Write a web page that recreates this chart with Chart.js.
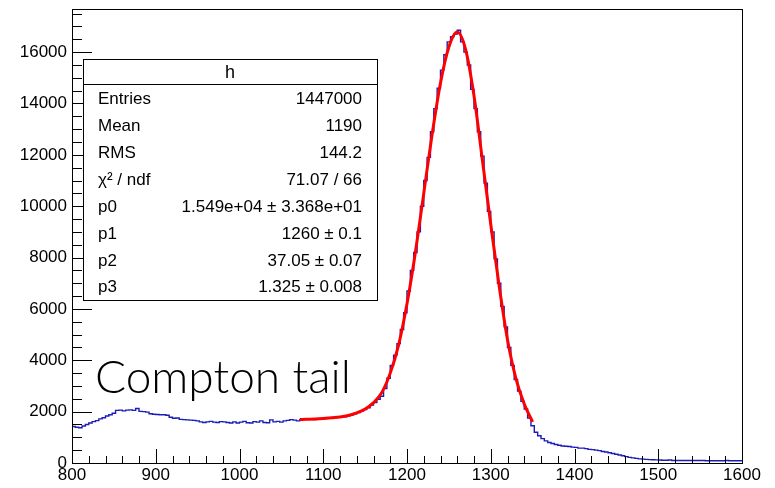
<!DOCTYPE html>
<html>
<head>
<meta charset="utf-8">
<title>h</title>
<script src="https://cdn.jsdelivr.net/npm/chart.js@4.4.1/dist/chart.umd.min.js"></script>
<style>
  html, body { margin: 0; padding: 0; background: #fff; }
  canvas { display: block; }
</style>
</head>
<body>
<canvas id="histChart" width="775" height="488"></canvas>
<script>
// histogram: 200 bins of width 4 from 800 to 1600
const binStart = 800;
const binWidth = 4;
const counts = [
  1420, 1390, 1370, 1440, 1500, 1560, 1610, 1650, 1720, 1760,
  1830, 1880, 1940, 2050, 2060, 2030, 2060, 2070, 2050, 2120,
  2010, 2000, 1980, 1920, 1900, 1890, 1880, 1880, 1860, 1780,
  1740, 1750, 1700, 1690, 1680, 1670, 1660, 1640, 1600, 1580,
  1600, 1620, 1590, 1580, 1610, 1600, 1580, 1560, 1600, 1560,
  1590, 1620, 1570, 1560, 1610, 1590, 1640, 1580, 1570, 1680,
  1600, 1620, 1590, 1640, 1660, 1690, 1670, 1640, 1690, 1700,
  1710, 1700, 1690, 1720, 1710, 1730, 1740, 1750, 1770, 1790,
  1780, 1800, 1840, 1880, 1920, 1960, 2020, 2080, 2150, 2260,
  2350, 2480, 2600, 2900, 3300, 3800, 4200, 4650, 5200, 5850,
  6700, 7500, 8200, 9000, 10000, 11000, 11900, 12900, 13800, 14600,
  15300, 15900, 16400, 16600, 16700, 16850, 16400, 16000, 15500, 14550,
  13800, 12900, 11950, 10900, 9800, 9000, 7950, 7000, 6100, 5300,
  4500, 3800, 3250, 2800, 2400, 2100, 1750, 1450, 1200, 1060,
  950, 860, 800, 760, 720, 690, 660, 650, 640, 620,
  610, 580, 580, 560, 530, 520, 500, 480, 450, 430,
  400, 370, 340, 310, 280, 250, 220, 200, 180, 160,
  150, 140, 130, 125, 120, 115, 110, 105, 115, 100,
  100, 100, 100, 95, 95, 95, 95, 95, 95, 90,
  90, 90, 90, 90, 90, 95, 90, 85, 85, 85
];

// fitted curve
const fitX = [1072, 1080, 1090, 1100, 1110, 1120, 1130, 1140, 1150, 1160,
              1170, 1180, 1190, 1200, 1210, 1220, 1230, 1240, 1250, 1260,
              1270, 1280, 1290, 1300, 1310, 1320, 1330, 1340, 1350];
const fitY = [1690, 1700, 1710, 1730, 1760, 1790, 1850, 1950, 2100, 2350,
              2750, 3500, 4600, 6200, 8200, 10500, 12800, 14800, 16200, 16780,
              16100, 14300, 11800, 9300, 6900, 4800, 3300, 2300, 1600];

const xTickLabels = [800, 900, 1000, 1100, 1200, 1300, 1400, 1500, 1600];
const yTickLabels = [0, 2000, 4000, 6000, 8000, 10000, 12000, 14000, 16000];

const statsTitle = 'h';
const statsNames = ['Entries', 'Mean', 'RMS', 'χ² / ndf', 'p0', 'p1', 'p2', 'p3'];
const statsValues = ['1447000', '1190', '144.2', '71.07 / 66',
                     '1.549e+04 ± 3.368e+01', '1260 ± 0.1', '37.05 ± 0.07', '1.325 ± 0.008'];
const annotation = 'Compton tail';

const histPoints = counts.map((c, i) => ({ x: binStart + i * binWidth, y: c }));
histPoints.push({ x: binStart + counts.length * binWidth, y: counts[counts.length - 1] });

const fitPoints = fitX.map((x, i) => ({ x: x, y: fitY[i] }));

const labelFont = '17px "Liberation Sans", Arial, sans-serif';

// frame, inner ticks, stats box and text label
const rootStyle = {
  id: 'rootStyle',
  afterDatasetsDraw(chart) {
    const ctx = chart.ctx;
    const a = chart.chartArea;
    const xs = chart.scales.x, ys = chart.scales.y;
    ctx.save();
    ctx.strokeStyle = '#000';
    ctx.lineWidth = 1;

    // ticks on x
    ctx.beginPath();
    for (let v = 800; v <= 1600; v += 20) {
      const px = Math.round(xs.getPixelForValue(v)) + 0.5;
      const len = v % 100 === 0 ? 14 : 7;
      ctx.moveTo(px, a.bottom);
      ctx.lineTo(px, a.bottom - len);
    }
    // ticks on y
    for (let v = 0; v <= ys.max; v += 500) {
      const py = Math.round(ys.getPixelForValue(v)) + 0.5;
      const len = v % 2000 === 0 ? 20 : 10;
      ctx.moveTo(a.left, py);
      ctx.lineTo(a.left + len, py);
    }
    ctx.stroke();

    // frame
    ctx.strokeRect(Math.round(a.left) + 0.5, Math.round(a.top) + 0.5,
                   Math.round(a.right - a.left), Math.round(a.bottom - a.top));

    // stats box
    const bx = 83, by = 59, bw = 294, bh = 241, titleH = 25;
    ctx.fillStyle = '#fff';
    ctx.fillRect(bx, by, bw, bh);
    ctx.strokeRect(bx + 0.5, by + 0.5, bw, bh);
    ctx.beginPath();
    ctx.moveTo(bx, by + titleH + 0.5);
    ctx.lineTo(bx + bw, by + titleH + 0.5);
    ctx.stroke();

    ctx.fillStyle = '#000';
    ctx.textBaseline = 'middle';
    ctx.font = '18px "Liberation Sans", Arial, sans-serif';
    ctx.textAlign = 'center';
    ctx.fillText(statsTitle, bx + bw / 2, by + 14);

    ctx.font = labelFont;
    statsNames.forEach((name, i) => {
      const y = 99.5 + i * 26.9;
      ctx.textAlign = 'left';
      ctx.fillText(name, 98, y);
      ctx.textAlign = 'right';
      ctx.fillText(statsValues[i], 362, y);
    });

    // annotation
    ctx.font = '300 46px Lato, "Open Sans", sans-serif';
    ctx.textAlign = 'left';
    ctx.textBaseline = 'alphabetic';
    ctx.fillText(annotation, 95, 393);
    ctx.restore();
  }
};

new Chart(document.getElementById('histChart'), {
  type: 'line',
  data: {
    datasets: [
      {
        label: 'fit',
        data: fitPoints,
        borderColor: '#ff0000',
        borderWidth: 3,
        pointRadius: 0,
        cubicInterpolationMode: 'monotone',
        fill: false,
        order: 0
      },
      {
        label: 'h',
        data: histPoints,
        borderColor: '#1c1cb8',
        borderWidth: 1.4,
        pointRadius: 0,
        stepped: 'before',
        fill: false,
        order: 1
      }
    ]
  },
  options: {
    responsive: false,
    animation: false,
    devicePixelRatio: 1,
    layout: { padding: { top: 9, right: 33, left: 0, bottom: 0 } },
    plugins: {
      legend: { display: false },
      tooltip: { enabled: false },
      title: { display: false }
    },
    scales: {
      x: {
        type: 'linear',
        min: 800,
        max: 1600,
        grid: { display: false, drawTicks: false },
        border: { display: false },
        afterBuildTicks: (s) => { s.ticks = xTickLabels.map(v => ({ value: v })); },
        afterFit: (s) => { s.height = 25; s.paddingLeft = 0; s.paddingRight = 0; },
        ticks: {
          color: '#000',
          font: { family: '"Liberation Sans", Arial, sans-serif', size: 17 },
          padding: 2,
          maxRotation: 0,
          autoSkip: false,
          callback: (v) => String(v)
        }
      },
      y: {
        type: 'linear',
        min: 0,
        max: 17680,
        grid: { display: false, drawTicks: false },
        border: { display: false },
        afterBuildTicks: (s) => { s.ticks = yTickLabels.map(v => ({ value: v })); },
        afterFit: (s) => { s.width = 72; s.paddingTop = 0; s.paddingBottom = 0; },
        ticks: {
          color: '#000',
          font: { family: '"Liberation Sans", Arial, sans-serif', size: 17 },
          padding: 5,
          autoSkip: false,
          callback: (v) => String(v)
        }
      }
    }
  },
  plugins: [rootStyle]
});
</script>
</body>
</html>
